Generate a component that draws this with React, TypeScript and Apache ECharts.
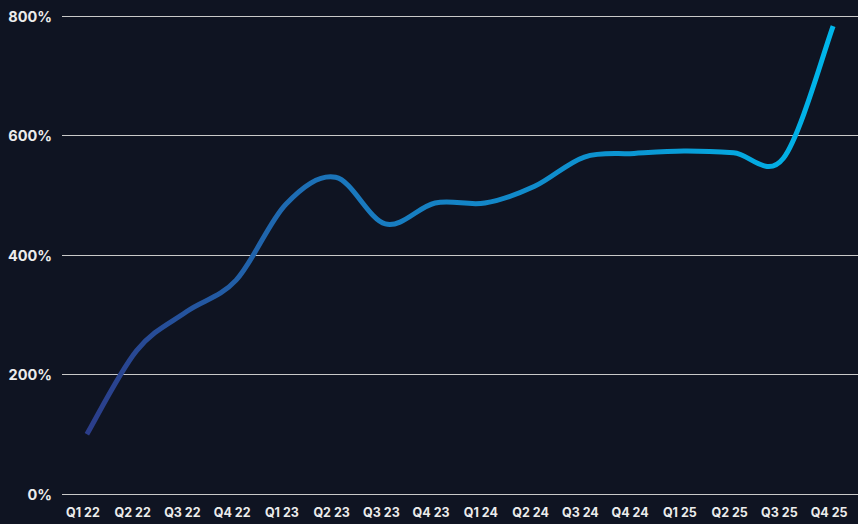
import React, { useEffect, useRef } from "react";
import * as echarts from "echarts";

const categories = [
  "Q1 22", "Q2 22", "Q3 22", "Q4 22",
  "Q1 23", "Q2 23", "Q3 23", "Q4 23",
  "Q1 24", "Q2 24", "Q3 24", "Q4 24",
  "Q1 25", "Q2 25", "Q3 25", "Q4 25",
];
const values = [100, 240, 305, 358, 485, 530, 452, 487, 487, 515, 564, 570, 574, 571, 562, 783];
const yTicks = { min: 0, max: 800, interval: 200 };

function catmullRomPath(pts: number[][]): string {
  const k = 1 / 6;
  let d = `M${pts[0][0]},${pts[0][1]}`;
  for (let i = 0; i < pts.length - 1; i++) {
    const p0 = pts[Math.max(0, i - 1)];
    const p1 = pts[i];
    const p2 = pts[i + 1];
    const p3 = pts[Math.min(pts.length - 1, i + 2)];
    const c1x = p1[0] + (p2[0] - p0[0]) * k;
    const c1y = p1[1] + (p2[1] - p0[1]) * k;
    const c2x = p2[0] - (p3[0] - p1[0]) * k;
    const c2y = p2[1] - (p3[1] - p1[1]) * k;
    d += ` C${c1x},${c1y} ${c2x},${c2y} ${p2[0]},${p2[1]}`;
  }
  return d;
}

export default function App() {
  const ref = useRef<HTMLDivElement>(null);
  useEffect(() => {
    document.body.style.margin = "0";
    const chart = echarts.init(ref.current!, null, { renderer: "svg" });
    const gradient = new echarts.graphic.LinearGradient(0, 0, 1, 0, [
      { offset: 0, color: "#2b3d8a" },
      { offset: 0.35, color: "#1a78bd" },
      { offset: 0.75, color: "#0a98d4" },
      { offset: 1, color: "#00b6ea" },
    ]);
    chart.setOption({
      animation: false,
      backgroundColor: "#0f1422",
      grid: { left: 62, top: 16, width: 803, bottom: 30, containLabel: false },
      xAxis: {
        type: "category",
        data: categories,
        boundaryGap: true,
        axisLine: { show: false },
        axisTick: { show: false },
        axisLabel: {
          color: "#ececec",
          fontFamily: "Inter",
          fontWeight: "bold",
          fontSize: 12.5,
          margin: 12,
          interval: 0,
          padding: [0, 8, 0, 0],
        },
      },
      yAxis: {
        type: "value",
        min: yTicks.min,
        max: yTicks.max,
        interval: yTicks.interval,
        axisLine: { show: false },
        axisTick: { show: false },
        axisLabel: {
          formatter: "{value}%",
          color: "#ececec",
          fontFamily: "Inter",
          fontWeight: "bold",
          fontSize: 14.5,
          margin: 10,
        },
        splitLine: { lineStyle: { color: "#c9c9c9", width: 1 } },
      },
      series: [
        {
          type: "custom",
          data: values.map((v, i) => [i, v]),
          encode: { x: 0, y: 1 },
          renderItem: (params: any, api: any) => {
            if (params.dataIndex !== 0) return null;
            const pts = values.map((v, i) => api.coord([i, v]));
            return {
              type: "path",
              shape: { pathData: catmullRomPath(pts) },
              style: {
                stroke: gradient,
                lineWidth: 5,
                fill: "none",
                lineCap: "butt",
                lineJoin: "round",
              },
            };
          },
        },
      ],
    });
    return () => chart.dispose();
  }, []);
  return <div ref={ref} style={{ width: 858, height: 524 }} />;
}
